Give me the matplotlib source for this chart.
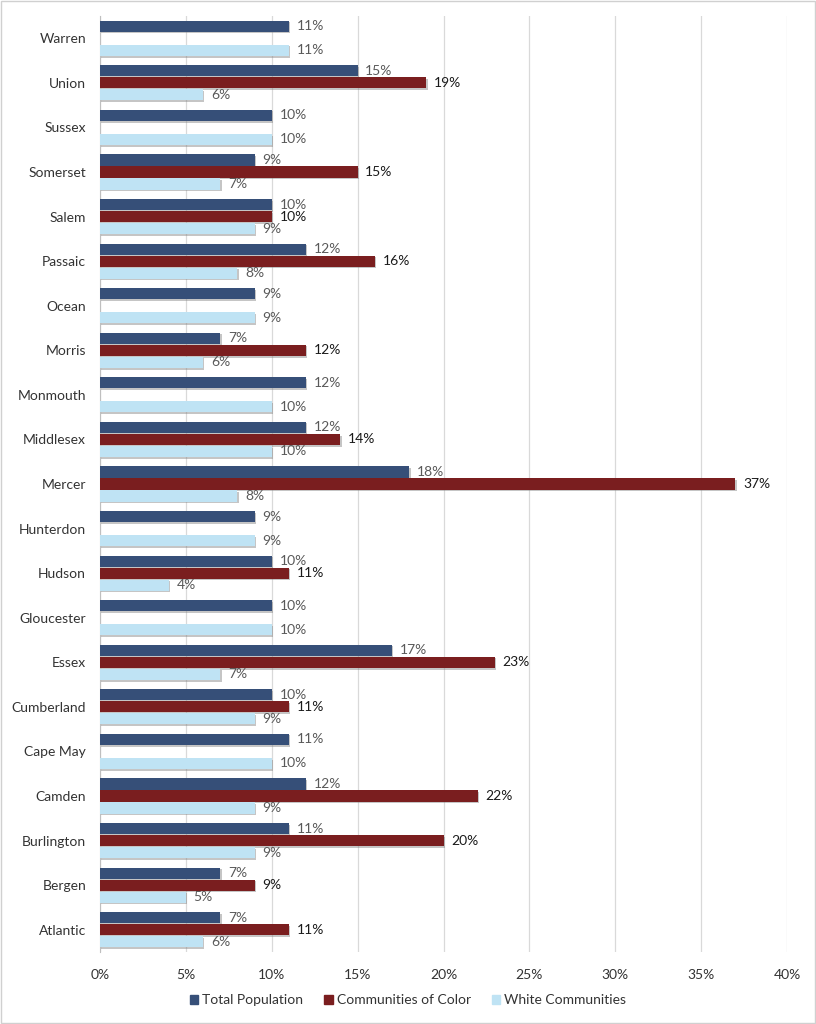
import matplotlib
matplotlib.use("Agg")
import matplotlib.pyplot as plt
import matplotlib.patheffects as pe
import numpy as np

counties = ["Warren", "Union", "Sussex", "Somerset", "Salem", "Passaic", "Ocean", "Morris",
            "Monmouth", "Middlesex", "Mercer", "Hunterdon", "Hudson", "Gloucester", "Essex",
            "Cumberland", "Cape May", "Camden", "Burlington", "Bergen", "Atlantic"]
total_pop = [11, 15, 10, 9, 10, 12, 9, 7, 12, 12, 18, 9, 10, 10, 17, 10, 11, 12, 11, 7, 7]
communities_color = [None, 19, None, 15, 10, 16, None, 12, None, 14, 37, None, 11, None, 23,
                     11, None, 22, 20, 9, 11]
white_comm = [11, 6, 10, 7, 9, 8, 9, 6, 10, 10, 8, 9, 4, 10, 7, 9, 10, 9, 9, 5, 6]
series_names = ["Total Population", "Communities of Color", "White Communities"]
colors = ["#364f78", "#7a1e1f", "#bfe3f4"]
label_colors = ["#595959", "#1a1a1a", "#595959"]

plt.rcParams['font.family'] = ['Lato', 'DejaVu Sans']

fig = plt.figure(figsize=(8.16, 10.24), dpi=100)
ax = fig.add_axes([100/816, 1 - 952/1024, (787-100)/816, (952-16)/1024])

n = len(counties)
y = np.arange(n)
offsets = [-0.27, 0.0, 0.27]
h = 0.25
shadow = [pe.SimplePatchShadow(offset=(1.0, -1.2), shadow_rgbFace="#7f7f7f", alpha=0.45), pe.Normal()]

for k, vals in enumerate([total_pop, communities_color, white_comm]):
    for i, v in enumerate(vals):
        if v is None:
            continue
        bars = ax.barh(y[i] + offsets[k], v, height=h, color=colors[k], zorder=3)
        for b in bars:
            b.set_path_effects(shadow)
        ax.text(v + 0.45, y[i] + offsets[k], f"{v}%", va="center", ha="left",
                fontsize=10, color=label_colors[k], zorder=4)

ax.set_ylim(n - 0.5, -0.5)
ax.set_xlim(0, 40)
ax.set_xticks(np.arange(0, 41, 5))
ax.set_xticklabels([f"{t}%" for t in range(0, 41, 5)])
ax.set_yticks(y)
ax.set_yticklabels(counties)
ax.tick_params(axis="both", length=0, labelsize=10, colors="#333333")
ax.tick_params(axis="x", pad=12)
ax.tick_params(axis="y", pad=10)
ax.xaxis.grid(True, color="#d9d9d9", linewidth=0.9, zorder=0)
ax.set_axisbelow(True)
for s in ["top", "right", "bottom"]:
    ax.spines[s].set_visible(False)
ax.spines["left"].set_color("#bfbfbf")

handles = [plt.Rectangle((0, 0), 1, 1, color=c) for c in colors]
leg = fig.legend(handles, series_names,
                 loc="center", bbox_to_anchor=(408/816, 1 - 1000/1024), ncol=3,
                 frameon=False, fontsize=10, handlelength=0.6, handleheight=0.6,
                 handletextpad=0.3, columnspacing=1.5)
for t in leg.get_texts():
    t.set_color("#333333")

fig.patches.append(plt.Rectangle((0.001, 0.001), 0.998, 0.998, transform=fig.transFigure,
                                 fill=False, edgecolor="#d0d0d0", linewidth=1))
fig.savefig("out.png", dpi=100)
